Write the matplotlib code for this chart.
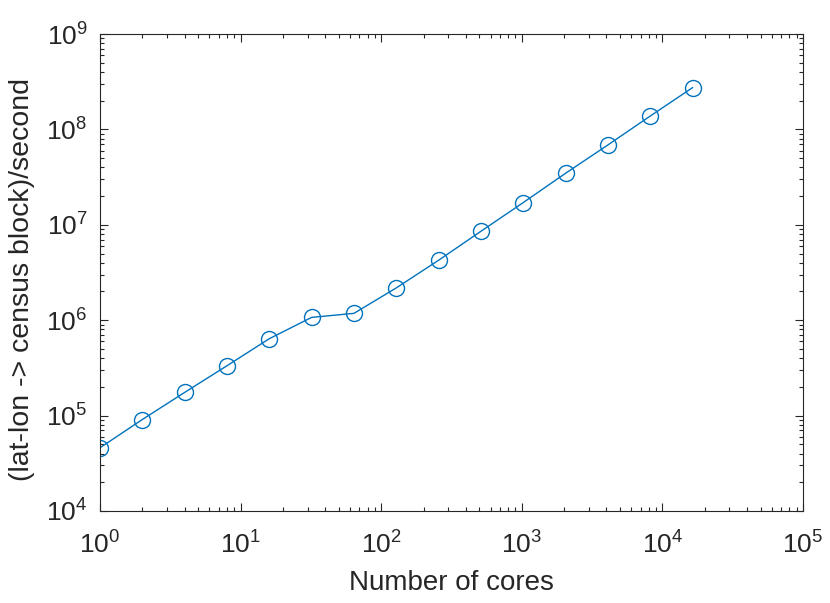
import matplotlib
matplotlib.use('Agg')
import matplotlib.pyplot as plt
from matplotlib.ticker import LogLocator, NullFormatter

plt.rcParams['font.family'] = ['Liberation Sans', 'DejaVu Sans']

# 数据：核心数与每秒处理量
cores = [1, 2, 4, 8, 16, 32, 64, 128, 256, 512, 1024, 2048, 4096, 8192, 16384]
rate = [4.6e4, 9.1e4, 1.75e5, 3.33e5, 6.4e5, 1.07e6, 1.18e6, 2.18e6,
        4.25e6, 8.55e6, 1.71e7, 3.47e7, 6.87e7, 1.38e8, 2.74e8]

fig = plt.figure(figsize=(8.3, 6.03), dpi=100)
ax = fig.add_axes([100 / 830, 92 / 603, 703 / 830, 477 / 603])

ax.plot(cores, rate, '-o', color='#0072BD', linewidth=1.0,
        markersize=11.5, markerfacecolor='none', markeredgewidth=1.0)

ax.set_xscale('log')
ax.set_yscale('log')
ax.set_xlim(1, 1e5)
ax.set_ylim(1e4, 1e9)

ax.xaxis.set_major_locator(LogLocator(base=10, numticks=10))
ax.yaxis.set_major_locator(LogLocator(base=10, numticks=10))
ax.xaxis.set_minor_locator(LogLocator(base=10, subs=range(2, 10), numticks=20))
ax.yaxis.set_minor_locator(LogLocator(base=10, subs=range(2, 10), numticks=20))
ax.xaxis.set_minor_formatter(NullFormatter())
ax.yaxis.set_minor_formatter(NullFormatter())

ax.tick_params(which='both', direction='in', top=True, right=True,
               colors='#262626', labelcolor='#262626', width=0.8)
ax.tick_params(which='major', length=5.5, labelsize=19)
ax.tick_params(axis='x', which='major', pad=15)
ax.tick_params(axis='y', which='major', pad=9)
ax.tick_params(which='minor', length=3)
for s in ax.spines.values():
    s.set_color('#262626')
    s.set_linewidth(0.8)

ax.set_xlabel('Number of cores', fontsize=20, color='#262626')
ax.set_ylabel('(lat-lon -> census block)/second', fontsize=20.5, color='#262626')
ax.xaxis.set_label_coords(0.5, -0.124)
ax.yaxis.set_label_coords(-0.0925, 0.486)

fig.savefig('out.png', dpi=100)
